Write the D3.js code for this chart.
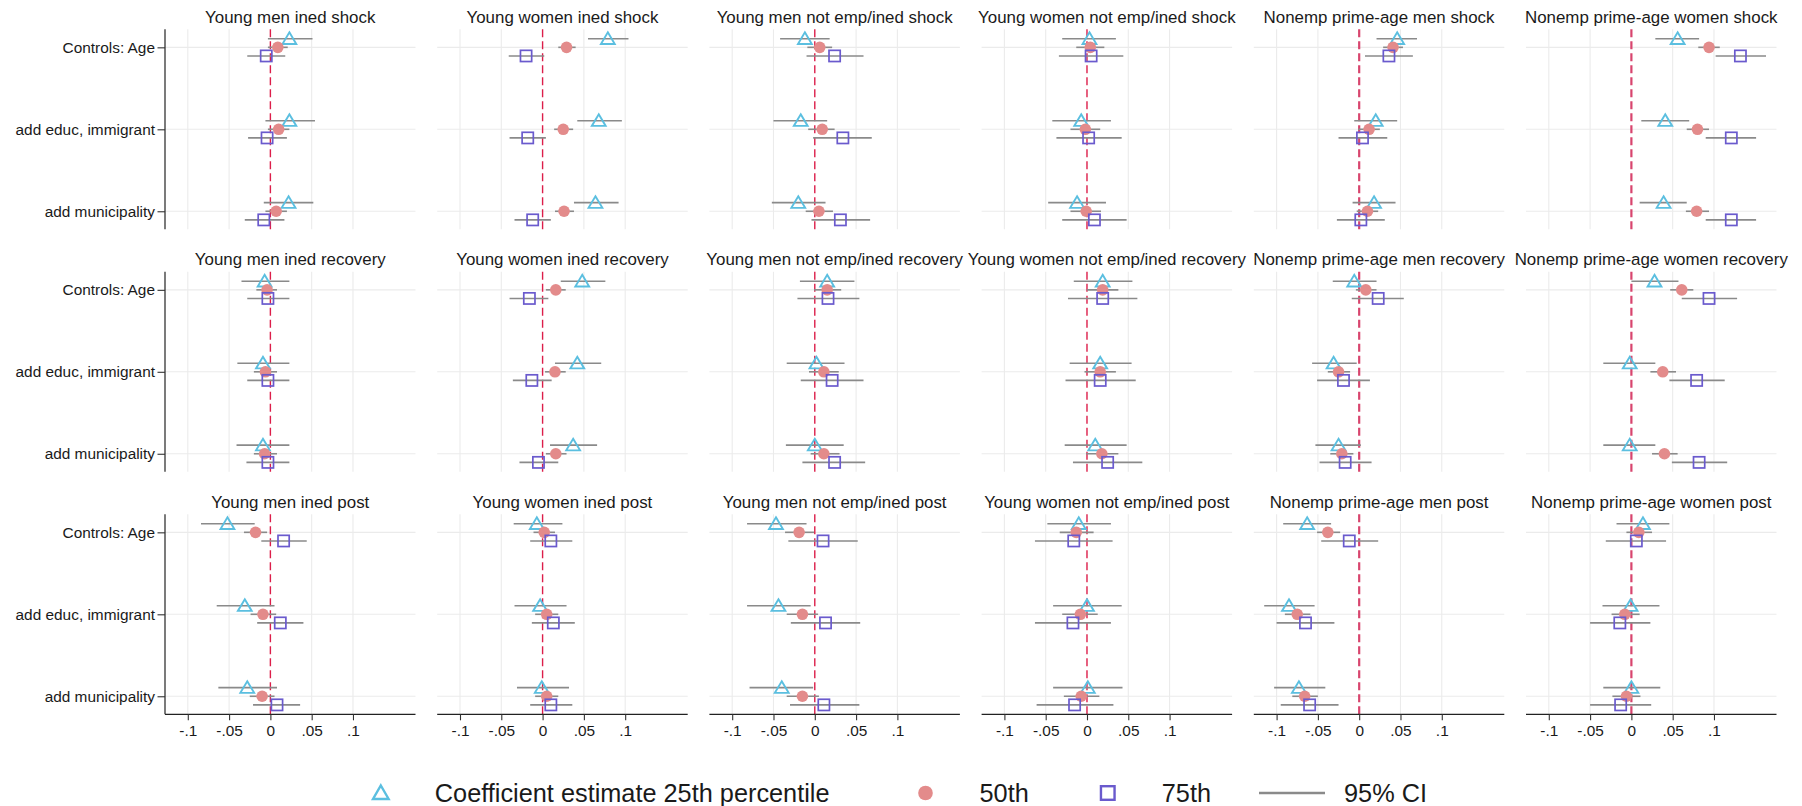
<!DOCTYPE html>
<html>
<head>
<meta charset="utf-8">
<script src="https://cdn.jsdelivr.net/npm/d3@7"></script>
<style>
  html, body { margin: 0; padding: 0; background: #ffffff; }
  svg { display: block; font-family: "Liberation Sans", Arial, sans-serif; }
</style>
</head>
<body>
<svg id="chart" width="1802" height="806"></svg>
<script>
// Specifications on the vertical axis (top to bottom)
const categories = ["Controls: Age", "add educ, immigrant", "add municipality"];

// Facet titles, row by row
const panelTitles = [
  "Young men ined shock", "Young women ined shock", "Young men not emp/ined shock",
  "Young women not emp/ined shock", "Nonemp prime-age men shock", "Nonemp prime-age women shock",
  "Young men ined recovery", "Young women ined recovery", "Young men not emp/ined recovery",
  "Young women not emp/ined recovery", "Nonemp prime-age men recovery", "Nonemp prime-age women recovery",
  "Young men ined post", "Young women ined post", "Young men not emp/ined post",
  "Young women not emp/ined post", "Nonemp prime-age men post", "Nonemp prime-age women post"
];

// X axis ticks
const tickValues = [-0.1, -0.05, 0, 0.05, 0.1];
const tickLabels = ["-.1", "-.05", "0", ".05", ".1"];

// Series labels
const seriesNames = ["Coefficient estimate 25th percentile", "50th", "75th"];

// 25th percentile: estimate, CI low, CI high (per panel: Age, educ, municipality)
const est25 = [
  [0.023, 0.023, 0.022], [0.079, 0.068, 0.064], [-0.012, -0.017, -0.020],
  [0.003, -0.007, -0.012], [0.046, 0.020, 0.018], [0.056, 0.041, 0.039],
  [-0.007, -0.009, -0.009], [0.048, 0.042, 0.037], [0.015, 0.002, 0.000],
  [0.019, 0.016, 0.010], [-0.006, -0.031, -0.025], [0.028, -0.002, -0.002],
  [-0.052, -0.031, -0.028], [-0.007, -0.003, -0.001], [-0.047, -0.044, -0.040],
  [-0.010, 0.000, 0.001], [-0.063, -0.085, -0.073], [0.014, -0.001, 0.000]
];
const lo25 = [
  [-0.003, -0.006, -0.008], [0.055, 0.042, 0.038], [-0.042, -0.050, -0.052],
  [-0.030, -0.042, -0.047], [0.021, -0.006, -0.008], [0.029, 0.012, 0.010],
  [-0.035, -0.040, -0.041], [0.022, 0.015, 0.009], [-0.018, -0.034, -0.035],
  [-0.016, -0.021, -0.027], [-0.032, -0.057, -0.053], [0.000, -0.034, -0.034],
  [-0.084, -0.065, -0.063], [-0.035, -0.034, -0.031], [-0.082, -0.082, -0.079],
  [-0.048, -0.041, -0.041], [-0.092, -0.115, -0.103], [-0.018, -0.035, -0.034]
];
const hi25 = [
  [0.051, 0.054, 0.052], [0.104, 0.096, 0.092], [0.018, 0.015, 0.013],
  [0.035, 0.029, 0.023], [0.070, 0.046, 0.044], [0.082, 0.070, 0.067],
  [0.023, 0.023, 0.023], [0.076, 0.071, 0.066], [0.048, 0.036, 0.035],
  [0.055, 0.054, 0.048], [0.021, -0.003, 0.002], [0.057, 0.029, 0.029],
  [-0.019, 0.005, 0.008], [0.024, 0.029, 0.032], [-0.010, -0.005, -0.002],
  [0.029, 0.042, 0.043], [-0.034, -0.054, -0.041], [0.046, 0.034, 0.035]
];

// 50th percentile
const est50 = [
  [0.009, 0.010, 0.007], [0.029, 0.025, 0.026], [0.006, 0.009, 0.005],
  [0.004, -0.002, -0.001], [0.041, 0.012, 0.010], [0.094, 0.080, 0.079],
  [-0.004, -0.006, -0.007], [0.016, 0.015, 0.016], [0.015, 0.011, 0.011],
  [0.019, 0.016, 0.018], [0.008, -0.025, -0.021], [0.061, 0.038, 0.040],
  [-0.018, -0.009, -0.010], [0.002, 0.005, 0.005], [-0.019, -0.015, -0.015],
  [-0.013, -0.008, -0.007], [-0.038, -0.075, -0.066], [0.009, -0.008, -0.006]
];
const lo50 = [
  [-0.003, -0.003, -0.006], [0.019, 0.014, 0.015], [-0.009, -0.008, -0.011],
  [-0.013, -0.020, -0.020], [0.029, -0.001, -0.003], [0.081, 0.067, 0.066],
  [-0.017, -0.020, -0.020], [0.004, 0.003, 0.004], [-0.001, -0.007, -0.005],
  [0.000, -0.003, -0.001], [-0.004, -0.038, -0.035], [0.047, 0.023, 0.025],
  [-0.032, -0.024, -0.025], [-0.011, -0.009, -0.009], [-0.036, -0.034, -0.034],
  [-0.033, -0.030, -0.028], [-0.051, -0.090, -0.081], [-0.006, -0.024, -0.023]
];
const hi50 = [
  [0.021, 0.023, 0.020], [0.040, 0.037, 0.038], [0.021, 0.024, 0.022],
  [0.021, 0.016, 0.017], [0.053, 0.025, 0.023], [0.107, 0.094, 0.094],
  [0.008, 0.008, 0.008], [0.028, 0.028, 0.029], [0.032, 0.029, 0.030],
  [0.038, 0.035, 0.038], [0.021, -0.011, -0.007], [0.075, 0.054, 0.056],
  [-0.004, 0.007, 0.005], [0.015, 0.019, 0.019], [-0.001, 0.004, 0.005],
  [0.008, 0.013, 0.015], [-0.023, -0.059, -0.050], [0.025, 0.010, 0.011]
];

// 75th percentile
const est75 = [
  [-0.005, -0.004, -0.008], [-0.020, -0.018, -0.012], [0.024, 0.034, 0.031],
  [0.005, 0.002, 0.009], [0.036, 0.004, 0.002], [0.132, 0.121, 0.121],
  [-0.003, -0.003, -0.003], [-0.016, -0.013, -0.005], [0.016, 0.021, 0.024],
  [0.019, 0.016, 0.025], [0.023, -0.019, -0.017], [0.094, 0.079, 0.082],
  [0.016, 0.012, 0.008], [0.010, 0.013, 0.010], [0.010, 0.013, 0.011],
  [-0.016, -0.017, -0.015], [-0.012, -0.065, -0.060], [0.006, -0.014, -0.013]
];
const lo75 = [
  [-0.028, -0.027, -0.031], [-0.041, -0.040, -0.034], [-0.010, -0.002, -0.004],
  [-0.034, -0.037, -0.030], [0.007, -0.025, -0.027], [0.102, 0.090, 0.090],
  [-0.028, -0.028, -0.029], [-0.040, -0.036, -0.028], [-0.021, -0.017, -0.015],
  [-0.023, -0.026, -0.017], [-0.009, -0.051, -0.048], [0.061, 0.046, 0.049],
  [-0.011, -0.016, -0.021], [-0.015, -0.013, -0.015], [-0.032, -0.029, -0.030],
  [-0.063, -0.063, -0.061], [-0.046, -0.100, -0.095], [-0.031, -0.050, -0.050]
];
const hi75 = [
  [0.018, 0.020, 0.017], [0.002, 0.004, 0.010], [0.059, 0.069, 0.067],
  [0.044, 0.042, 0.048], [0.065, 0.034, 0.031], [0.163, 0.151, 0.151],
  [0.023, 0.023, 0.023], [0.007, 0.011, 0.019], [0.054, 0.059, 0.061],
  [0.061, 0.059, 0.067], [0.054, 0.013, 0.015], [0.128, 0.113, 0.116],
  [0.044, 0.040, 0.036], [0.036, 0.039, 0.036], [0.052, 0.055, 0.054],
  [0.031, 0.029, 0.032], [0.023, -0.030, -0.025], [0.042, 0.023, 0.024]
];

// ---- layout ----
const nCols = 6, nRows = 3;
const panelLeft = 165, panelW = 250.5, colStep = 272.2;
const panelTop = 29.3, panelH = 200, rowStep = 242.5;

const colors = { tri: "#5bbfe0", dot: "#e38b8b", sq: "#6a5acd", ci: "#8a8a8a", zero: "#dc1e4a" };

const svg = d3.select("#chart");

const x = d3.scaleLinear().domain([-0.1276, 0.1757]).range([0, panelW]);
const y = d3.scalePoint().domain(categories).range([0, panelH]).padding(0.22);
const dodge = d3.scalePoint().domain(seriesNames).range([-8.6, 8.6]);

const series = [
  { name: seriesNames[0], est: est25, lo: lo25, hi: hi25, shape: "tri" },
  { name: seriesNames[1], est: est50, lo: lo50, hi: hi50, shape: "dot" },
  { name: seriesNames[2], est: est75, lo: lo75, hi: hi75, shape: "sq" }
];

function drawMarker(g, shape, cx, cy) {
  if (shape === "tri") {
    g.append("path")
      .attr("d", `M${cx},${cy - 6.4} L${cx + 6.9},${cy + 5.2} L${cx - 6.9},${cy + 5.2} Z`)
      .attr("fill", "none").attr("stroke", colors.tri).attr("stroke-width", 1.9);
  } else if (shape === "dot") {
    g.append("circle").attr("cx", cx).attr("cy", cy).attr("r", 5.8).attr("fill", colors.dot);
  } else {
    g.append("rect").attr("x", cx - 5.6).attr("y", cy - 5.6).attr("width", 11.2).attr("height", 11.2)
      .attr("fill", "none").attr("stroke", colors.sq).attr("stroke-width", 1.7);
  }
}

panelTitles.forEach((title, p) => {
  const col = p % nCols, row = Math.floor(p / nCols);
  const g = svg.append("g")
    .attr("transform", `translate(${panelLeft + col * colStep},${panelTop + row * rowStep})`);

  // grid
  g.selectAll("line.vgrid").data(tickValues.filter(t => t !== 0)).join("line")
    .attr("x1", d => x(d)).attr("x2", d => x(d)).attr("y1", 0).attr("y2", panelH)
    .attr("stroke", "#ebebeb").attr("stroke-width", 1.1);
  g.selectAll("line.hgrid").data(categories).join("line")
    .attr("x1", 0).attr("x2", panelW).attr("y1", d => y(d)).attr("y2", d => y(d))
    .attr("stroke", "#ebebeb").attr("stroke-width", 1.1);

  // reference line at zero
  g.append("line")
    .attr("x1", x(0)).attr("x2", x(0)).attr("y1", 0).attr("y2", panelH)
    .attr("stroke", col >= 4 ? "#d8456e" : colors.zero)
    .attr("stroke-width", col >= 4 ? 2.2 : 1.4)
    .attr("stroke-dasharray", "8,4");

  // confidence intervals then markers
  series.forEach(s => {
    categories.forEach((c, k) => {
      const cy = y(c) + dodge(s.name);
      g.append("line")
        .attr("x1", x(s.lo[p][k])).attr("x2", x(s.hi[p][k]))
        .attr("y1", cy).attr("y2", cy)
        .attr("stroke", colors.ci).attr("stroke-width", 1.6);
    });
  });
  series.forEach(s => {
    categories.forEach((c, k) => {
      drawMarker(g, s.shape, x(s.est[p][k]), y(c) + dodge(s.name));
    });
  });

  // facet title
  g.append("text")
    .attr("x", panelW / 2).attr("y", -6.5)
    .attr("text-anchor", "middle")
    .attr("font-size", 16.9).attr("fill", "#1a1a1a")
    .text(title);

  // left axis on the first column
  if (col === 0) {
    const ya = g.append("g").call(d3.axisLeft(y).tickSize(7.5).tickPadding(2.5));
    ya.select(".domain").attr("stroke", "#222").attr("stroke-width", 1.2).attr("d", `M0,0V${panelH}`);
    ya.selectAll(".tick line").attr("stroke", "#333").attr("stroke-width", 1.1);
    ya.selectAll(".tick text").attr("font-size", 15.4).attr("fill", "#1a1a1a")
      .attr("font-family", "'Liberation Sans', Arial, sans-serif");
  }

  // bottom axis on the last row
  if (row === nRows - 1) {
    const xa = g.append("g").attr("transform", `translate(0,${panelH})`)
      .call(d3.axisBottom(x).tickValues(tickValues).tickFormat((d, i) => tickLabels[i]).tickSize(6).tickPadding(5));
    xa.select(".domain").attr("stroke", "#222").attr("stroke-width", 1.2).attr("d", `M0,0H${panelW}`);
    xa.selectAll(".tick line").attr("stroke", "#333").attr("stroke-width", 1.1);
    xa.selectAll(".tick text").attr("font-size", 15.4).attr("fill", "#1a1a1a")
      .attr("font-family", "'Liberation Sans', Arial, sans-serif");
  }
});

// ---- legend ----
// cursor marks the centre of each marker key (or the start of the line key)
const legend = svg.append("g");
const legendItems = [
  { shape: "tri", label: seriesNames[0], gapAfter: 96 },
  { shape: "dot", label: seriesNames[1], gapAfter: 79 },
  { shape: "sq", label: seriesNames[2], gapAfter: 48 },
  { shape: "line", label: "95% CI", gapAfter: 0 }
];
let cursor = 0;
legendItems.forEach(item => {
  const ig = legend.append("g");
  const cx = cursor;
  if (item.shape === "line") {
    ig.append("line").attr("x1", cursor).attr("x2", cursor + 66).attr("y1", 0).attr("y2", 0)
      .attr("stroke", colors.ci).attr("stroke-width", 2.6);
  } else if (item.shape === "tri") {
    ig.append("path").attr("d", `M${cx},-7.5 L${cx + 7.8},6 L${cx - 7.8},6 Z`)
      .attr("fill", "none").attr("stroke", colors.tri).attr("stroke-width", 2.4);
  } else if (item.shape === "dot") {
    ig.append("circle").attr("cx", cx).attr("cy", 0).attr("r", 7.3).attr("fill", colors.dot);
  } else {
    ig.append("rect").attr("x", cx - 6.8).attr("y", -6.8).attr("width", 13.6).attr("height", 13.6)
      .attr("fill", "none").attr("stroke", colors.sq).attr("stroke-width", 2.4);
  }
  const textX = item.shape === "line" ? cursor + 85 : cx + 54;
  const t = ig.append("text").attr("x", textX).attr("y", 9)
    .attr("font-size", 25.3).attr("fill", "#1a1a1a").text(item.label);
  cursor = textX + t.node().getComputedTextLength() + item.gapAfter;
});
const lb = legend.node().getBBox();
legend.attr("transform", `translate(${900 - (lb.x + lb.width / 2)},793)`);
</script>
</body>
</html>
